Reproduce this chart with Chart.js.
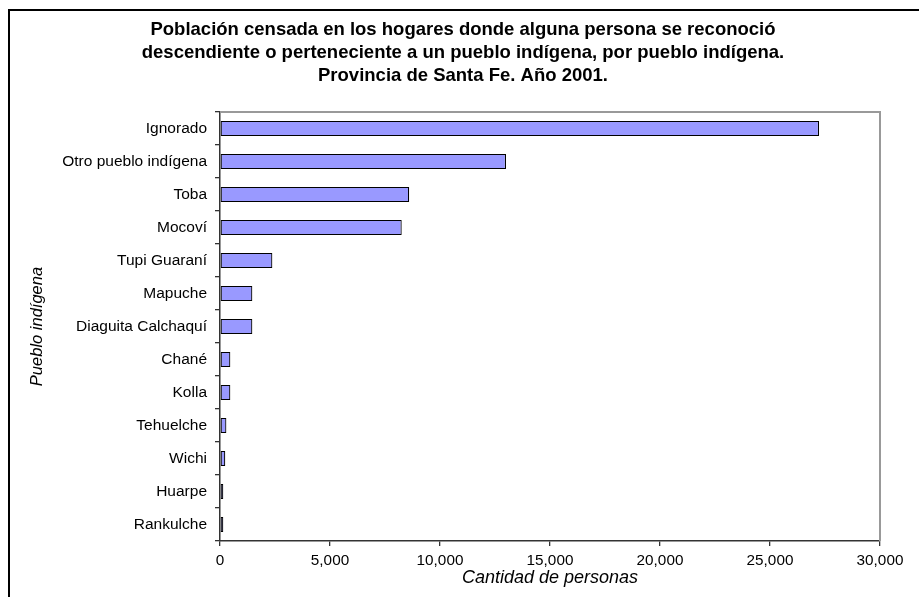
<!DOCTYPE html>
<html>
<head>
<meta charset="utf-8">
<script src="https://cdn.jsdelivr.net/npm/chart.js@4"></script>
<style>
html,body{margin:0;padding:0;background:#fff;}
#wrap{width:919px;height:597px;position:relative;}
</style>
</head>
<body>
<div id="wrap"><canvas id="c" width="919" height="597"></canvas></div>
<script>
const titleLines = [
  "Población censada en los hogares donde alguna persona se reconoció",
  "descendiente o perteneciente a un pueblo indígena, por pueblo indígena.",
  "Provincia de Santa Fe. Año 2001."
];
const categories = ["Ignorado","Otro pueblo indígena","Toba","Mocoví","Tupi Guaraní","Mapuche","Diaguita Calchaquí","Chané","Kolla","Tehuelche","Wichi","Huarpe","Rankulche"];
const values = [27230,13000,8600,8260,2380,1470,1470,470,470,290,240,150,150];
const xTitle = "Cantidad de personas";
const yTitle = "Pueblo indígena";
const xMin = 0, xMax = 30000, xStep = 5000;

const FONT = 'Liberation Sans, Arial, sans-serif';

const framePlugin = {
  id: 'frame',
  beforeDraw(chart) {
    const ctx = chart.ctx;
    ctx.save();
    ctx.fillStyle = '#fff';
    ctx.fillRect(0,0,chart.width,chart.height);
    ctx.strokeStyle = '#000';
    ctx.lineWidth = 2;
    ctx.beginPath();
    ctx.moveTo(9, chart.height);
    ctx.lineTo(9, 10);
    ctx.lineTo(chart.width, 10);
    ctx.stroke();
    ctx.restore();
  },
  beforeDatasetsDraw(chart) {
    const a = chart.chartArea, ctx = chart.ctx;
    ctx.save();
    ctx.strokeStyle = '#999';
    ctx.lineWidth = 2;
    ctx.beginPath();
    ctx.moveTo(a.left, a.top);
    ctx.lineTo(a.right, a.top);
    ctx.lineTo(a.right, a.bottom);
    ctx.stroke();
    ctx.restore();
  }
};

new Chart(document.getElementById('c'), {
  type: 'bar',
  data: {
    labels: categories,
    datasets: [{
      data: values,
      backgroundColor: '#9999FF',
      borderColor: '#000',
      borderWidth: 1.2,
      borderSkipped: false,
      categoryPercentage: 1,
      barPercentage: 0.46
    }]
  },
  plugins: [framePlugin],
  options: {
    indexAxis: 'y',
    responsive: false,
    animation: false,
    devicePixelRatio: 1,
    layout: { padding: { left: 46, right: 39, top: 0, bottom: 0 } },
    plugins: {
      legend: { display: false },
      tooltip: { enabled: false },
      title: {
        display: true,
        text: titleLines,
        color: '#000',
        font: { family: FONT, size: 18.5, weight: 'bold', lineHeight: 23/18.5 },
        padding: { top: 18.5, bottom: 24.5 }
      }
    },
    scales: {
      x: {
        min: xMin, max: xMax,
        ticks: {
          stepSize: xStep,
          color: '#000',
          font: { family: FONT, size: 15.3 },
          padding: 6,
          maxRotation: 0,
          callback: v => v.toLocaleString('en-US')
        },
        grid: { drawOnChartArea: false, tickLength: 5, color: '#333', lineWidth: 1.3 },
        border: { color: '#333', width: 1.5 },
        title: {
          display: true, text: xTitle, color: '#000',
          font: { family: FONT, size: 18, style: 'italic' },
          padding: { top: 0, bottom: 8 }
        },
        afterFit: s => { s.height = 56; }
      },
      y: {
        ticks: {
          color: '#000',
          font: { family: FONT, size: 15.5 },
          padding: 8
        },
        grid: { offset: true, drawOnChartArea: false, tickLength: 5, color: '#333', lineWidth: 1.3 },
        border: { color: '#333', width: 1.5 },
        title: {
          display: true, text: yTitle, color: '#000',
          font: { family: FONT, size: 16.5, style: 'italic' },
          padding: { top: -18, bottom: 0 }
        },
        afterFit: s => { s.width = 174; }
      }
    }
  }
});
</script>
</body>
</html>
